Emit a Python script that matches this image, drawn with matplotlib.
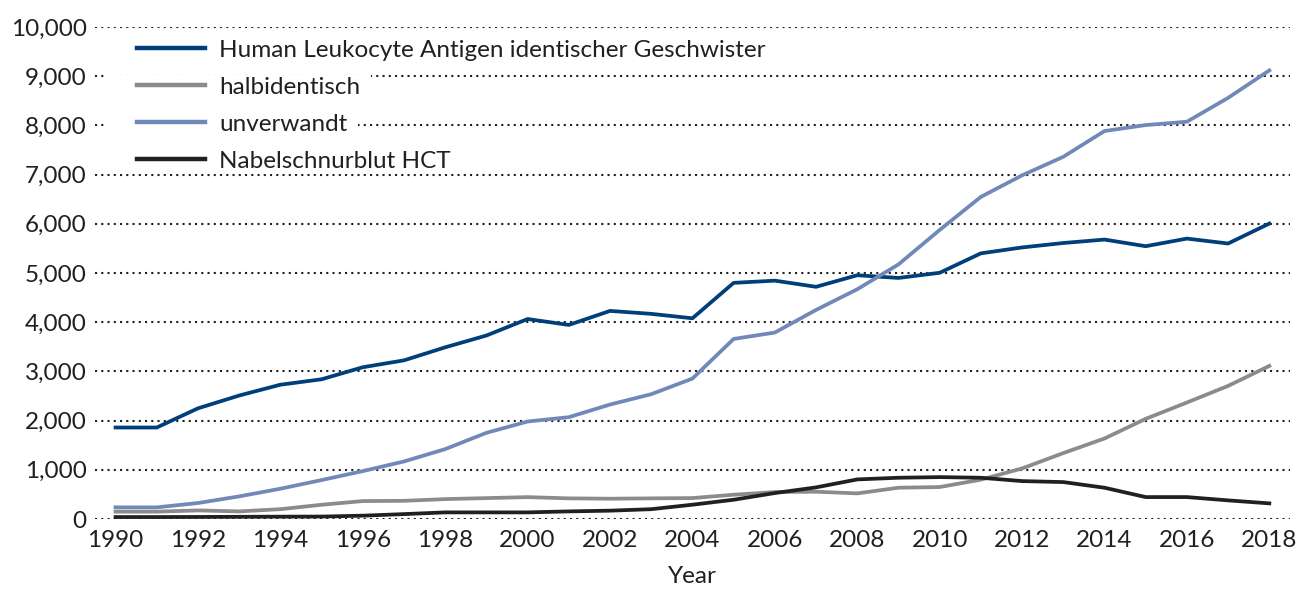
import matplotlib
matplotlib.use("Agg")
import matplotlib.pyplot as plt
from matplotlib.patches import Rectangle

# data
years = list(range(1990, 2019))

hla_identical = [1860, 1860, 2250, 2510, 2730, 2840, 3085, 3225, 3490, 3730, 4065, 3945, 4230, 4170, 4080,
                 4800, 4845, 4720, 4955, 4900, 5005, 5400, 5520, 5610, 5680, 5545, 5700, 5600, 6005]
haploidentical = [150, 150, 175, 155, 200, 290, 365, 370, 405, 425, 445, 420, 413, 420, 426,
                  494, 548, 555, 521, 636, 650, 800, 1028, 1340, 1637, 2036, 2368, 2706, 3112]
unrelated = [237, 237, 325, 460, 616, 792, 974, 1170, 1421, 1752, 1982, 2070, 2327, 2537, 2855,
             3660, 3790, 4250, 4670, 5175, 5875, 6548, 6985, 7362, 7886, 8007, 8075, 8560, 9118]
cord_blood = [40, 40, 42, 45, 48, 50, 68, 100, 135, 135, 135, 155, 170, 200, 291,
              392, 528, 643, 805, 839, 852, 839, 771, 751, 636, 446, 446, 379, 318]

labels = ["Human Leukocyte Antigen identischer Geschwister", "halbidentisch",
          "unverwandt", "Nabelschnurblut HCT"]
colors = ["#003f7a", "#8b8b8d", "#7089b9", "#231f20"]
series = [hla_identical, haploidentical, unrelated, cord_blood]

plt.rcParams['font.family'] = ['Lato', 'DejaVu Sans']
text_color = "#231f20"
fs = 17.5

fig = plt.figure(figsize=(12.99, 5.90), dpi=100)
ax = fig.add_axes([0.0731, 0.1203, 0.9199, 0.8339])

for vals, lab, col in zip(series, labels, colors):
    ax.plot(years, vals, color=col, lw=2.7, label=lab, zorder=3, clip_on=False)

ax.set_xlim(1989.5, 2018.5)
ax.set_ylim(0, 10000)
ax.set_xticks(range(1990, 2019, 2))
ax.set_yticks(range(0, 10001, 1000))
ax.set_yticklabels([f"{v:,}" for v in range(0, 10001, 1000)])
ax.tick_params(length=0, labelsize=fs, colors=text_color, pad=6)
ax.tick_params(axis='x', pad=8)
ax.grid(axis='y', color='#231f20', linestyle=(0, (1, 2)), lw=1.5, zorder=0)
ax.set_axisbelow(True)
for s in ax.spines.values():
    s.set_visible(False)
ax.set_xlabel("Year", fontsize=fs, color=text_color, labelpad=11)

leg = ax.legend(loc='upper left', bbox_to_anchor=(0.035, 0.974), frameon=False,
                fontsize=fs, handlelength=2.8, handletextpad=0.6, labelspacing=0.66,
                borderpad=0.0, borderaxespad=0.0)
for t in leg.get_texts():
    t.set_color(text_color)
for h in leg.get_lines():
    h.set_linewidth(3.2)
leg.set_zorder(6)

# white patches behind each legend entry so the grid dots break there
fig.canvas.draw()
inv = ax.transAxes.inverted()
leg_left = leg.get_window_extent().x0
for t in leg.get_texts():
    bb = t.get_window_extent()
    (x0, y0) = inv.transform((leg_left - 32, bb.y0 - 2))
    (x1, y1) = inv.transform((bb.x1 + 10, bb.y1 + 2))
    ax.add_patch(Rectangle((x0, y0), x1 - x0, y1 - y0, transform=ax.transAxes,
                           facecolor='white', edgecolor='none', zorder=5))

fig.savefig("out.png", dpi=100)
